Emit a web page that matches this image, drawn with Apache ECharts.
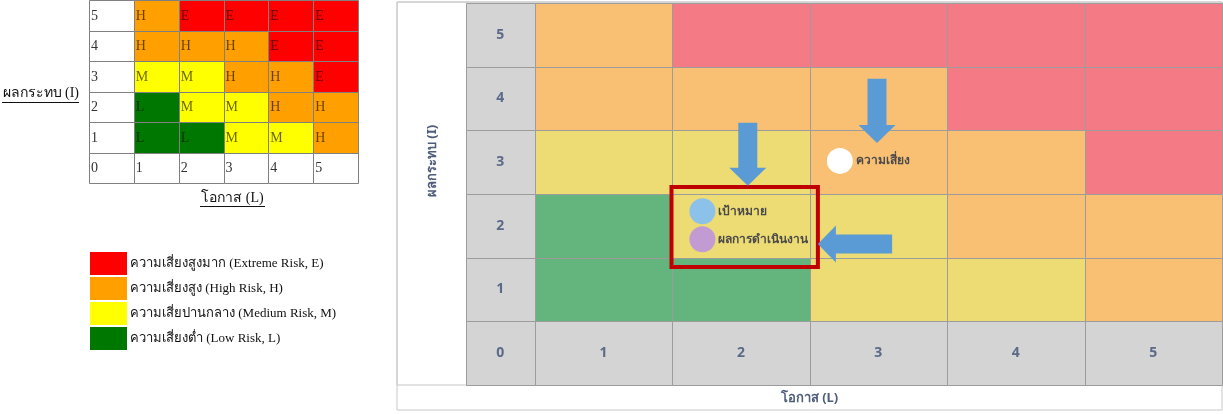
<!DOCTYPE html>
<html><head><meta charset="utf-8">
<script src="https://cdn.jsdelivr.net/npm/echarts@6/dist/echarts.min.js"></script>
<style>html,body{margin:0;padding:0;background:#fff}#c{width:1223px;height:414px}</style>
</head><body><div id="c"></div>
<script>
// ---- data ----
const likelihoodTicks = ['0', '1', '2', '3', '4', '5'];
const impactTicks = ['0', '1', '2', '3', '4', '5'];
// risk level per impact row (1..5), across likelihood 1..5
const riskImpact1 = ['L', 'L', 'M', 'M', 'H'];
const riskImpact2 = ['L', 'M', 'M', 'H', 'H'];
const riskImpact3 = ['M', 'M', 'H', 'H', 'E'];
const riskImpact4 = ['H', 'H', 'H', 'E', 'E'];
const riskImpact5 = ['H', 'E', 'E', 'E', 'E'];
const riskMatrix = [riskImpact1, riskImpact2, riskImpact3, riskImpact4, riskImpact5];
const levelCodes = ['E', 'H', 'M', 'L'];
const levelNames = ['ความเสี่ยงสูงมาก (Extreme Risk, E)', 'ความเสี่ยงสูง (High Risk, H)', 'ความเสี่ยปานกลาง (Medium Risk, M)', 'ความเสี่ยงต่ำ (Low Risk, L)'];
const pointNames = ['ความเสี่ยง', 'เป้าหมาย', 'ผลการดำเนินงาน'];
const pointLikelihood = [2.72, 1.72, 1.72];
const pointImpact = [3.02, 2.23, 1.79];
const arrowFrom = [[2.05, 3.62], [2.99, 4.31], [3.10, 1.715]];
const arrowTo = [[2.05, 2.63], [2.99, 3.30], [2.56, 1.715]];
const focusBox = [1.495, 1.355, 2.56, 2.61];

// ---- styles ----
const tableColors = { E: '#ff0000', H: '#ff9f00', M: '#ffff00', L: '#007800' };
const matrixColors = { E: '#f47b86', H: '#f9c074', M: '#eddb73', L: '#64b47d' };
const pointColors = ['#ffffff', '#8cc1ea', '#c39bd3'];
const serif = '"Liberation Serif", "Times New Roman", serif';
const sans = 'Tahoma, "Noto Sans", "DejaVu Sans", sans-serif';

function tableSeries(name, cells, fill, textFill) {
  return {
    type: 'custom', name: name, xAxisIndex: 0, yAxisIndex: 0, z: 2,
    itemStyle: { color: fill },
    data: cells.map(c => [c[0], c[1]]),
    renderItem: function (params, api) {
      const cx = api.value(0), cy = api.value(1);
      const p0 = api.coord([cx, cy + 1]), p1 = api.coord([cx + 1, cy]);
      return {
        type: 'group', children: [
          { type: 'rect', shape: { x: Math.round(p0[0]) + 0.5, y: Math.round(p0[1]) + 0.5, width: Math.round(p1[0]) - Math.round(p0[0]), height: Math.round(p1[1]) - Math.round(p0[1]) },
            style: { fill: fill, stroke: '#808080', lineWidth: 1 } },
          { type: 'text', style: { text: cells[params.dataIndex][2], x: p0[0] + 2, y: (p0[1] + p1[1]) / 2 + 1, align: 'left', verticalAlign: 'middle', font: '14px ' + serif, fill: textFill } }
        ]
      };
    }
  };
}

const series = [];
// header (white) cells of the small table
const headerCells = [];
for (let r = 0; r <= 5; r++) headerCells.push([0, r, impactTicks[r]]);
for (let c = 1; c <= 5; c++) headerCells.push([c, 0, likelihoodTicks[c]]);
series.push(tableSeries('header', headerCells, '#ffffff', '#333333'));
levelCodes.forEach((code, k) => {
  const cells = [];
  for (let r = 1; r <= 5; r++) for (let c = 1; c <= 5; c++) if (riskMatrix[r - 1][c - 1] === code) cells.push([c, r, code]);
  series.push(tableSeries(levelNames[k], cells, tableColors[code], 'rgba(0,0,0,0.6)'));
});

// big matrix
const matrixCells = [];
for (let j = 0; j <= 5; j++) for (let i = 0; i <= 5; i++) matrixCells.push([i, j]);
series.push({
  type: 'custom', xAxisIndex: 1, yAxisIndex: 1, z: 2, silent: true,
  data: matrixCells,
  renderItem: function (params, api) {
    const i = api.value(0), j = api.value(1);
    const x0 = i === 0 ? 0 : i - 0.5, x1 = i === 0 ? 0.5 : i + 0.5;
    const p0 = api.coord([x0, j + 0.5]), p1 = api.coord([x1, j - 0.5]);
    let fill = '#d4d4d4', label = '';
    if (i === 0) label = impactTicks[j];
    else if (j === 0) label = likelihoodTicks[i];
    else fill = matrixColors[riskMatrix[j - 1][i - 1]];
    const rx = Math.round(p0[0]) + 0.5, ry = Math.round(p0[1]) + 0.5;
    return {
      type: 'group', children: [
        { type: 'rect', shape: { x: rx, y: ry, width: Math.round(p1[0]) - Math.round(p0[0]), height: Math.round(p1[1]) - Math.round(p0[1]) },
          style: { fill: fill, stroke: '#9c9c9c', lineWidth: 1 } },
        { type: 'text', style: { text: label, x: (p0[0] + p1[0]) / 2, y: (p0[1] + p1[1]) / 2, align: 'center', verticalAlign: 'middle', font: 'bold 14px ' + sans, fill: '#5b6a88' } }
      ]
    };
  }
});
// focus box
series.push({
  type: 'custom', xAxisIndex: 1, yAxisIndex: 1, z: 3, silent: true,
  data: [focusBox],
  renderItem: function (params, api) {
    const p0 = api.coord([api.value(0), api.value(3)]), p1 = api.coord([api.value(2), api.value(1)]);
    return { type: 'rect', shape: { x: p0[0], y: p0[1], width: p1[0] - p0[0], height: p1[1] - p0[1] }, style: { fill: 'none', stroke: '#c00000', lineWidth: 4 } };
  }
});
// points
series.push({
  type: 'scatter', xAxisIndex: 1, yAxisIndex: 1, z: 4, symbolSize: 26,
  data: pointNames.map((n, k) => ({ name: n, value: [pointLikelihood[k], pointImpact[k]], itemStyle: { color: pointColors[k], opacity: 1 } })),
  itemStyle: { opacity: 1 },
  label: { show: true, position: 'right', distance: 3, formatter: '{b}', color: '#4a4a4a', fontWeight: 'bold', fontSize: 12, fontFamily: sans }
});
// arrows
series.push({
  type: 'custom', xAxisIndex: 1, yAxisIndex: 1, z: 5, silent: true,
  data: arrowFrom.map((f, k) => [f[0], f[1], arrowTo[k][0], arrowTo[k][1]]),
  renderItem: function (params, api) {
    const a = api.coord([api.value(0), api.value(1)]), b = api.coord([api.value(2), api.value(3)]);
    const dx = b[0] - a[0], dy = b[1] - a[1], len = Math.sqrt(dx * dx + dy * dy);
    const ux = dx / len, uy = dy / len, nx = -uy, ny = ux;
    const sw = 9.5, hw = 18.5, hl = 18;
    const mx = b[0] - ux * hl, my = b[1] - uy * hl;
    const pts = [
      [a[0] + nx * sw, a[1] + ny * sw], [mx + nx * sw, my + ny * sw], [mx + nx * hw, my + ny * hw], [b[0], b[1]],
      [mx - nx * hw, my - ny * hw], [mx - nx * sw, my - ny * sw], [a[0] - nx * sw, a[1] - ny * sw]
    ];
    return { type: 'polygon', shape: { points: pts }, style: { fill: '#5b9bd5' } };
  }
});

const hidden = { show: false };
const option = {
  animation: false,
  grid: [
    { left: 88, top: 0, width: 270, height: 183 },
    { left: 466, top: 3, right: 1, bottom: 29 },
    { left: 397, top: 2, right: 1, bottom: 4, show: true, borderColor: '#c8c8c8', borderWidth: 1 },
    { left: 397, top: 2, right: 1, bottom: 29, show: true, borderColor: '#c8c8c8', borderWidth: 1 }
  ],
  xAxis: [
    { gridIndex: 0, type: 'value', min: 0, max: 6, axisLine: hidden, axisTick: hidden, axisLabel: hidden, splitLine: hidden,
      name: '{t|โอกาส (L)}\n{u|}', nameLocation: 'middle', nameGap: 7,
      nameTextStyle: { padding: [0, 0, 0, 18], rich: { t: { fontFamily: serif, fontSize: 14, color: '#111', lineHeight: 16 }, u: { width: 65, height: 1, backgroundColor: '#111' } } } },
    { gridIndex: 1, type: 'value', min: 0, max: 5.5, show: false },
    { gridIndex: 2, type: 'value', show: false },
    { gridIndex: 3, type: 'value', axisLine: hidden, axisTick: hidden, axisLabel: hidden, splitLine: hidden,
      name: 'โอกาส (L)', nameLocation: 'middle', nameGap: 7,
      nameTextStyle: { fontFamily: sans, fontSize: 13, fontWeight: 'bold', color: '#4e5d7a' } }
  ],
  yAxis: [
    { gridIndex: 0, type: 'value', min: 0, max: 6, axisLine: hidden, axisTick: hidden, axisLabel: hidden, splitLine: hidden,
      name: '{t|ผลกระทบ (I)}\n{u|}', nameLocation: 'middle', nameGap: 10, nameRotate: 0,
      nameTextStyle: { padding: [0, 0, -4, 0], rich: { t: { fontFamily: serif, fontSize: 14, color: '#111', lineHeight: 18 }, u: { width: 77, height: 1, backgroundColor: '#111' } } } },
    { gridIndex: 1, type: 'value', min: -0.5, max: 5.5, axisLine: hidden, axisTick: hidden, axisLabel: hidden, splitLine: hidden,
      name: 'ผลกระทบ (I)', nameLocation: 'middle', nameGap: 27, nameRotate: 90,
      nameTextStyle: { fontFamily: sans, fontSize: 13, fontWeight: 'bold', color: '#4e5d7a', padding: [0, 0, 0, 66] } },
    { gridIndex: 2, type: 'value', show: false },
    { gridIndex: 3, type: 'value', show: false }
  ],
  legend: {
    data: levelNames, orient: 'vertical', left: 90, top: 252, padding: 0, itemWidth: 37, itemHeight: 23, itemGap: 2,
    icon: 'rect', selectedMode: false,
    textStyle: { fontFamily: serif, fontSize: 13, color: '#111', padding: [0, 0, 0, -2] }
  },
  series: series
};
const chart = echarts.init(document.getElementById('c'), null, { renderer: 'canvas' });
chart.setOption(option);
</script></body></html>
